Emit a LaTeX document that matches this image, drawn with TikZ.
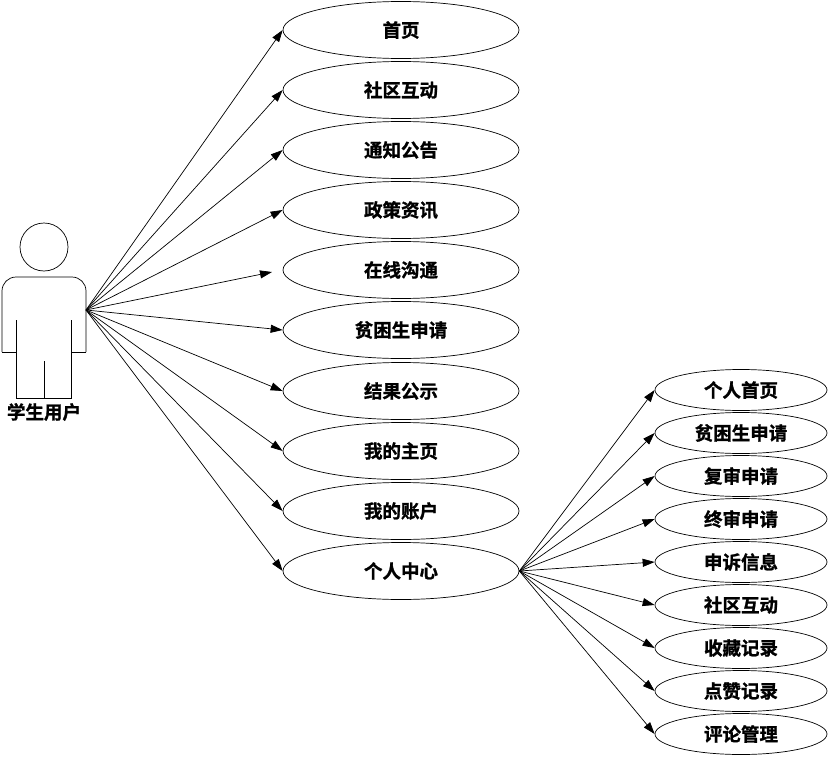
\documentclass[tikz,border=0pt]{standalone}
\usepackage{fontspec}
\setmainfont{Noto Sans CJK SC}[BoldFont={Noto Sans CJK SC Bold},BoldFeatures={FakeBold=1.2}]
\usetikzlibrary{arrows.meta,shapes.geometric}
\begin{document}
\begin{tikzpicture}[x=1pt,y=-1pt,
  every path/.style={line width=0.7pt},
  uc/.style={draw,ellipse,minimum width=236pt,minimum height=57pt,inner sep=0pt,font=\fontsize{18.5}{20}\selectfont\bfseries},
  subuc/.style={draw,ellipse,minimum width=172pt,minimum height=41pt,inner sep=0pt,font=\fontsize{18.5}{20}\selectfont\bfseries},
  link/.style={-{Triangle[length=12pt,width=8pt]}}]
\useasboundingbox (0,0) rectangle (830,760);
% actor
\node[draw,circle,minimum size=48pt,inner sep=0pt] (head) at (44,247) {};
\draw[rounded corners=14pt] (2,352) -- (2,277) -- (86,277) -- (86,352);
\draw (2,352) -- (16,352);
\draw (71,352) -- (86,352);
\draw (16,320) -- (16,398) -- (71,398) -- (71,320);
\draw (44,361) -- (44,398);
\coordinate (hand) at (86,310);
\node[font=\fontsize{18.5}{20}\selectfont\bfseries] (actor) at (44,412) {学生用户};
% use cases
\node[uc] (u1) at (401,30) {首页};
\node[uc] (u2) at (401,90) {社区互动};
\node[uc] (u3) at (401,150) {通知公告};
\node[uc] (u4) at (401,210) {政策资讯};
\node[uc] (u5) at (401,270) {在线沟通};
\node[uc] (u6) at (401,330) {贫困生申请};
\node[uc] (u7) at (401,391) {结果公示};
\node[uc] (u8) at (401,451) {我的主页};
\node[uc] (u9) at (401,511) {我的账户};
\node[uc] (u10) at (401,571) {个人中心};
\coordinate (gap) at (272,272);
\foreach \i in {1,2,3,4,6,7,8,9,10} \draw[link] (hand) -- (u\i.west);
\draw[link] (hand) -- (gap);
% sub use cases
\node[subuc] (s1) at (741,390) {个人首页};
\node[subuc] (s2) at (741,433) {贫困生申请};
\node[subuc] (s3) at (741,476) {复审申请};
\node[subuc] (s4) at (741,519) {终审申请};
\node[subuc] (s5) at (741,562) {申诉信息};
\node[subuc] (s6) at (741,605) {社区互动};
\node[subuc] (s7) at (741,648) {收藏记录};
\node[subuc] (s8) at (741,691) {点赞记录};
\node[subuc] (s9) at (741,734) {评论管理};
\foreach \i in {1,...,9} \draw[link] (u10.east) -- (s\i.west);
\end{tikzpicture}
\end{document}
